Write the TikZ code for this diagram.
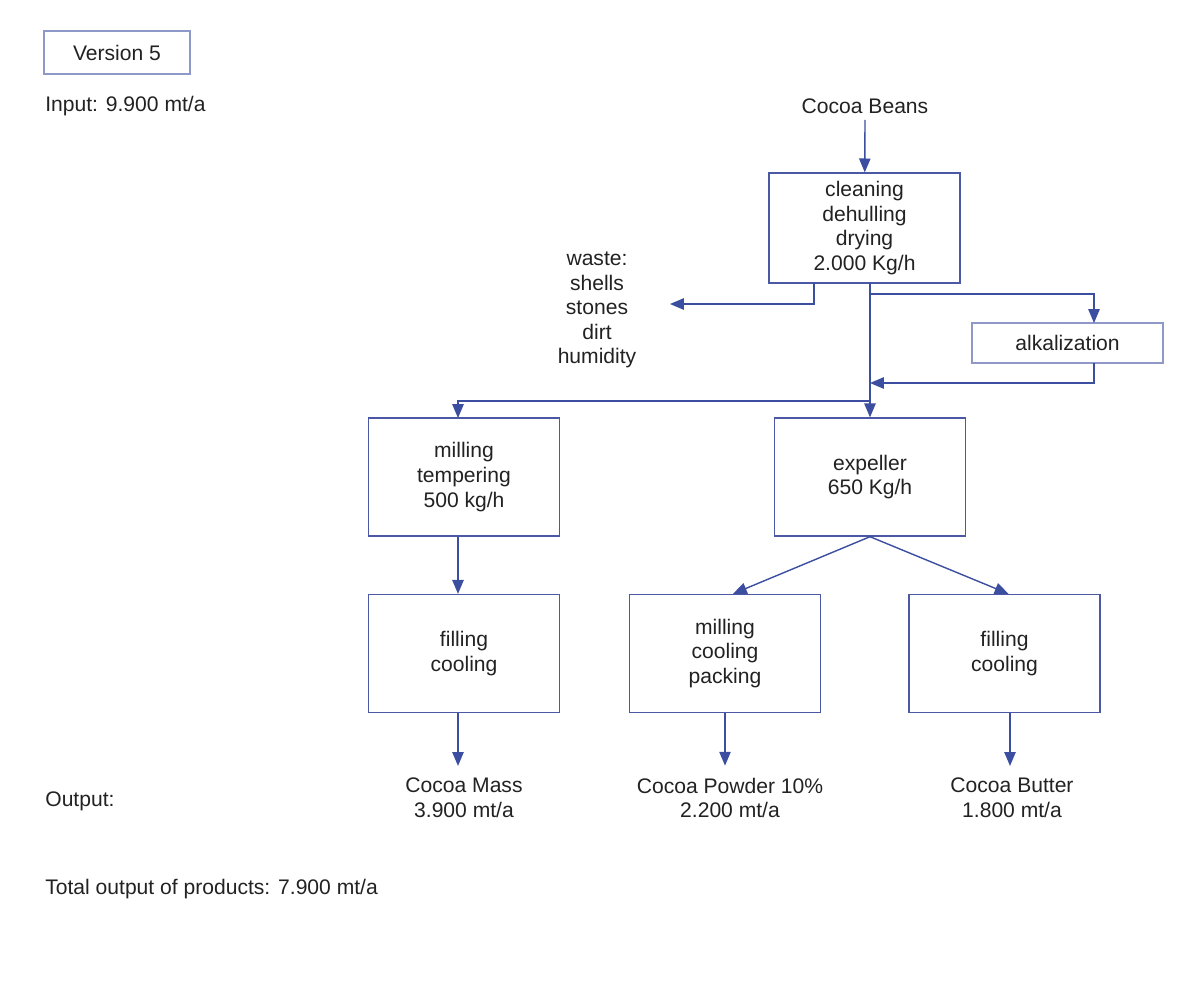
\documentclass[tikz,border=0pt]{standalone}
\usepackage{fontspec}
\setmainfont{Liberation Sans}
\usepackage{tikz}
\usetikzlibrary{arrows,calc}
\definecolor{boxblue}{HTML}{4A58A6}
\definecolor{arrowblue}{HTML}{3C4EA0}
\definecolor{paleblue}{HTML}{8F99C9}
\definecolor{ink}{HTML}{222222}
\tikzset{every picture/.append style={x=0.02cm,y=-0.02cm}}
\tikzset{every node/.style={text=ink,font=\fontsize{12}{14}\selectfont}}
\tikzset{stepbox/.style={draw=boxblue,thick,minimum width=3.82cm,minimum height=2.36cm,align=center,inner sep=0pt}}
\tikzset{palebox/.style={draw=paleblue,thick,inner sep=0pt}}
\tikzset{label/.style={align=center,inner sep=0pt}}
\tikzset{plain/.style={anchor=west,inner sep=0pt}}
\tikzset{flow/.style={-triangle 45, arrowblue, thick}}

\begin{document}
\begin{tikzpicture}
%cocoa processing line, version 5
\useasboundingbox (0,0) rectangle (1200,988);
\node (version) at (117,52.5)[palebox,minimum width=2.92cm,minimum height=0.86cm]{Version 5};
\node (input) at (45,106)[plain]{Input: 9.900 mt/a};
\node (output) at (45,801)[plain]{Output:};
\node (total) at (45,889)[plain]{Total output of products: 7.900 mt/a};
\node (beans) at (865,106)[label]{Cocoa Beans};
\node (clean) at (864.5,228)[stepbox,minimum height=2.2cm]{cleaning\\dehulling\\drying\\2.000 Kg/h};
\node (waste) at (597,310)[label]{waste:\\shells\\stones\\dirt\\humidity};
\node (alkali) at (1067.5,343)[palebox,minimum width=3.82cm,minimum height=0.8cm]{alkalization};
\node (mill) at (464,477)[stepbox]{milling\\tempering\\500 kg/h};
\node (expel) at (870,477)[stepbox]{expeller\\650 Kg/h};
\node (fillmass) at (464,653.5)[stepbox]{filling\\cooling};
\node (powder) at (725,653.5)[stepbox]{milling\\cooling\\packing};
\node (fillbutter) at (1004.5,653.5)[stepbox]{filling\\cooling};
\node (mass) at (464,798)[label]{Cocoa Mass\\3.900 mt/a};
\node (pow) at (730,798)[label]{Cocoa Powder 10\%\\2.200 mt/a};
\node (butter) at (1012,798)[label]{Cocoa Butter\\1.800 mt/a};
% junctions of the trunk
\coordinate (w0) at (814,283);
\coordinate (wend) at (670,304);
\coordinate (t0) at (870,283);
\coordinate (t1) at (870,294);
\coordinate (a0) at (1094,323);
\coordinate (a1) at (1094,363);
\coordinate (t2) at (870,383);
\coordinate (t3) at (870,401);
\coordinate (m0) at (458,418);
\draw[flow] ($(beans.south)+(0,6)$) -- (clean);
\draw[flow] (w0) |- (wend);
\draw[flow] (t0) -- (expel);
\draw[flow] (t1) -| (a0);
\draw[flow] (a1) |- (t2);
\draw[flow] (t3) -| (m0);
\draw[flow] (mill.south -| m0) -- (fillmass.north -| m0);
\draw[flow] (expel.south) -- ($(powder.north)+(8,0)$);
\draw[flow] (expel.south) -- ($(fillbutter.north)+(4,0)$);
\draw[flow] (fillmass.south -| m0) -- ($(mass.north -| m0)+(0,-12)$);
\draw[flow] (powder.south) -- ($(pow.north -| powder)+(0,-12)$);
\draw[flow] (fillbutter.south -| 1010,0) -- ($(butter.north -| 1010,0)+(0,-12)$);
\end{tikzpicture}
\end{document}
